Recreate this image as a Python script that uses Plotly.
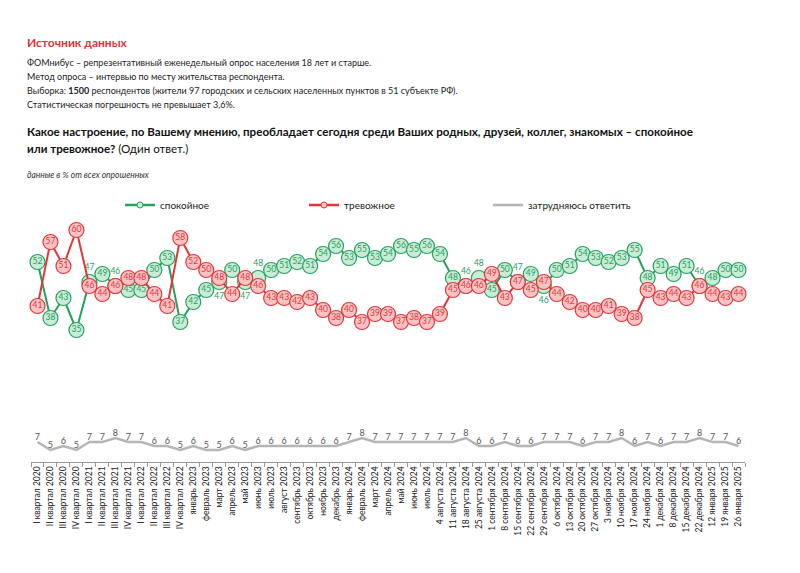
import plotly.graph_objects as go

categories = [
    "I квартал 2020", "II квартал 2020", "III квартал 2020", "IV квартал 2020",
    "I квартал 2021", "II квартал 2021", "III квартал 2021", "IV квартал 2021",
    "I квартал 2022", "II квартал 2022", "III квартал 2022", "IV квартал 2022",
    "январь 2023", "февраль 2023", "март 2023", "апрель 2023", "май 2023", "июнь 2023",
    "июль 2023", "август 2023", "сентябрь 2023", "октябрь 2023", "ноябрь 2023", "декабрь 2023",
    "январь 2024", "февраль 2024", "март 2024", "апрель 2024", "май 2024", "июнь 2024", "июль 2024",
    "4 августа 2024", "11 августа 2024", "18 августа 2024", "25 августа 2024",
    "1 сентября 2024", "8 сентября 2024", "15 сентября 2024", "22 сентября 2024", "29 сентября 2024",
    "6 октября 2024", "13 октября 2024", "20 октября 2024", "27 октября 2024",
    "3 ноября 2024", "10 ноября 2024", "17 ноября 2024", "24 ноября 2024",
    "1 декабря 2024", "8 декабря 2024", "15 декабря 2024", "22 декабря 2024",
    "12 января 2025", "19 января 2025", "26 января 2025",
]

calm = [52, 38, 43, 35, 47, 49, 46, 45, 45, 50, 53, 37,
        42, 45, 47, 50, 47, 48, 50, 51, 52, 51, 54, 56,
        53, 55, 53, 54, 56, 55, 56,
        54, 48, 46, 48, 45, 50, 47, 49, 46,
        50, 51, 54, 53, 52, 53, 55, 48, 51, 49, 51, 46,
        48, 50, 50]

anxious = [41, 57, 51, 60, 46, 44, 46, 48, 48, 44, 41, 58,
           52, 50, 48, 44, 48, 46, 43, 43, 42, 43, 40, 38,
           40, 37, 39, 39, 37, 38, 37,
           39, 45, 46, 46, 49, 43, 47, 45, 47,
           44, 42, 40, 40, 41, 39, 38, 45, 43, 44, 43, 46,
           44, 43, 44]

hard_to_say = [7, 5, 6, 5, 7, 7, 8, 7, 7, 6, 6, 5,
               6, 5, 5, 6, 5, 6, 6, 6, 6, 6, 6, 6,
               7, 8, 7, 7, 7, 7, 7,
               7, 7, 8, 6, 6, 7, 6, 6, 7,
               7, 7, 6, 7, 7, 8, 6, 7, 6, 7, 7, 8,
               7, 7, 6]

series_names = ["спокойное", "тревожное", "затрудняюсь ответить"]

GREEN = "#27a060"
GREEN_FILL = "#c9ecd6"
RED = "#e2363a"
RED_FILL = "#f9c3c4"
GRAY = "#b5b5b5"
FONT = "Lato"

# layout geometry (pixels)
W, H = 800, 573
ML, MR, MT, MB = 31, 55, 220, 111
PW = W - ML - MR
PH = H - MT - MB


def px(x):
    return (x - ML) / PW


def py(y):
    return (H - MB - y) / PH


# label placement for calm series: when close to anxious, put label outside
calm_pos = []
for c, a in zip(calm, anxious):
    if abs(c - a) <= 2:
        calm_pos.append("top center" if c >= a else "bottom center")
    else:
        calm_pos.append("middle center")

fig = go.Figure()

fig.add_trace(go.Scatter(
    x=categories, y=hard_to_say, mode="lines+text", name=series_names[2],
    line=dict(color=GRAY, width=2.5), text=[str(v) for v in hard_to_say],
    textposition="top center", textfont=dict(size=9, color="#555555", family=FONT),
    showlegend=False, cliponaxis=False,
))

fig.add_trace(go.Scatter(
    x=categories, y=calm, mode="lines+markers+text", name=series_names[0],
    line=dict(color=GREEN, width=2),
    marker=dict(size=15, color=GREEN_FILL, line=dict(color=GREEN, width=1.2)),
    text=[str(v) for v in calm], textposition=calm_pos,
    textfont=dict(size=8.5, color=GREEN, family=FONT),
    showlegend=False, cliponaxis=False,
))

fig.add_trace(go.Scatter(
    x=categories, y=anxious, mode="lines+markers+text", name=series_names[1],
    line=dict(color=RED, width=2),
    marker=dict(size=15, color=RED_FILL, line=dict(color=RED, width=1.2)),
    text=[str(v) for v in anxious], textposition="middle center",
    textfont=dict(size=8.5, color=RED, family=FONT),
    showlegend=False, cliponaxis=False,
))

# legend entries
fig.add_trace(go.Scatter(x=[None], y=[None], mode="lines+markers", name=series_names[0],
                         line=dict(color=GREEN, width=2.5),
                         marker=dict(size=6, color=GREEN_FILL, line=dict(color=GREEN, width=1))))
fig.add_trace(go.Scatter(x=[None], y=[None], mode="lines+markers", name=series_names[1],
                         line=dict(color=RED, width=2.5),
                         marker=dict(size=6, color=RED_FILL, line=dict(color=RED, width=1))))
fig.add_trace(go.Scatter(x=[None], y=[None], mode="lines", name=series_names[2],
                         line=dict(color=GRAY, width=2.5)))

annotations = [
    dict(text="<b>Источник данных</b>", x=px(25), y=py(42), font=dict(size=12, color="#d8373a")),
    dict(text="ФОМнибус – репрезентативный еженедельный опрос населения 18 лет и старше.", x=px(25), y=py(62)),
    dict(text="Метод опроса – интервью по месту жительства респондента.", x=px(25), y=py(76)),
    dict(text="Выборка: <b>1500</b> респондентов (жители 97 городских и сельских населенных пунктов в 51 субъекте РФ).", x=px(25), y=py(90)),
    dict(text="Статистическая погрешность не превышает 3,6%.", x=px(25), y=py(104)),
    dict(text="<b>Какое настроение, по Вашему мнению, преобладает сегодня среди Ваших родных, друзей, коллег, знакомых – спокойное</b>",
         x=px(25), y=py(131), font=dict(size=11.6, color="#111111")),
    dict(text="<b>или тревожное?</b> (Один ответ.)", x=px(25), y=py(148), font=dict(size=11.6, color="#111111")),
    dict(text="<i>данные в % от всех опрошенных</i>", x=px(25), y=py(175), font=dict(size=8.5, color="#333333")),
]
for a in annotations:
    a.setdefault("font", dict(size=9, color="#222222"))
    a["font"].setdefault("family", FONT)
    a.update(xref="paper", yref="paper", xanchor="left", yanchor="middle", showarrow=False)

fig.update_layout(
    width=W, height=H,
    margin=dict(l=ML, r=MR, t=MT, b=MB),
    paper_bgcolor="white", plot_bgcolor="white",
    font=dict(family=FONT, color="#222222"),
    annotations=annotations,
    legend=dict(orientation="h", x=px(120), y=py(205), xanchor="left", yanchor="middle",
                entrywidth=139, entrywidthmode="pixels",
                font=dict(size=10, color="#222222", family=FONT), bgcolor="rgba(0,0,0,0)"),
    xaxis=dict(type="category", categoryorder="array", categoryarray=categories,
               range=[-0.5, len(categories) - 0.5], automargin=False,
               showgrid=False, zeroline=False, showline=True, linecolor="#9a9a9a", linewidth=1,
               ticks="outside", tickson="boundaries", ticklen=4, tickcolor="#9a9a9a",
               tickangle=-90, tickfont=dict(size=8.5, color="#222222", family=FONT)),
    yaxis=dict(range=[2, 62.5], visible=False, showgrid=False, zeroline=False, automargin=False),
)

fig.write_html("out.html", config={"displayModeBar": False},
               post_script="document.body.style.margin='0';")
